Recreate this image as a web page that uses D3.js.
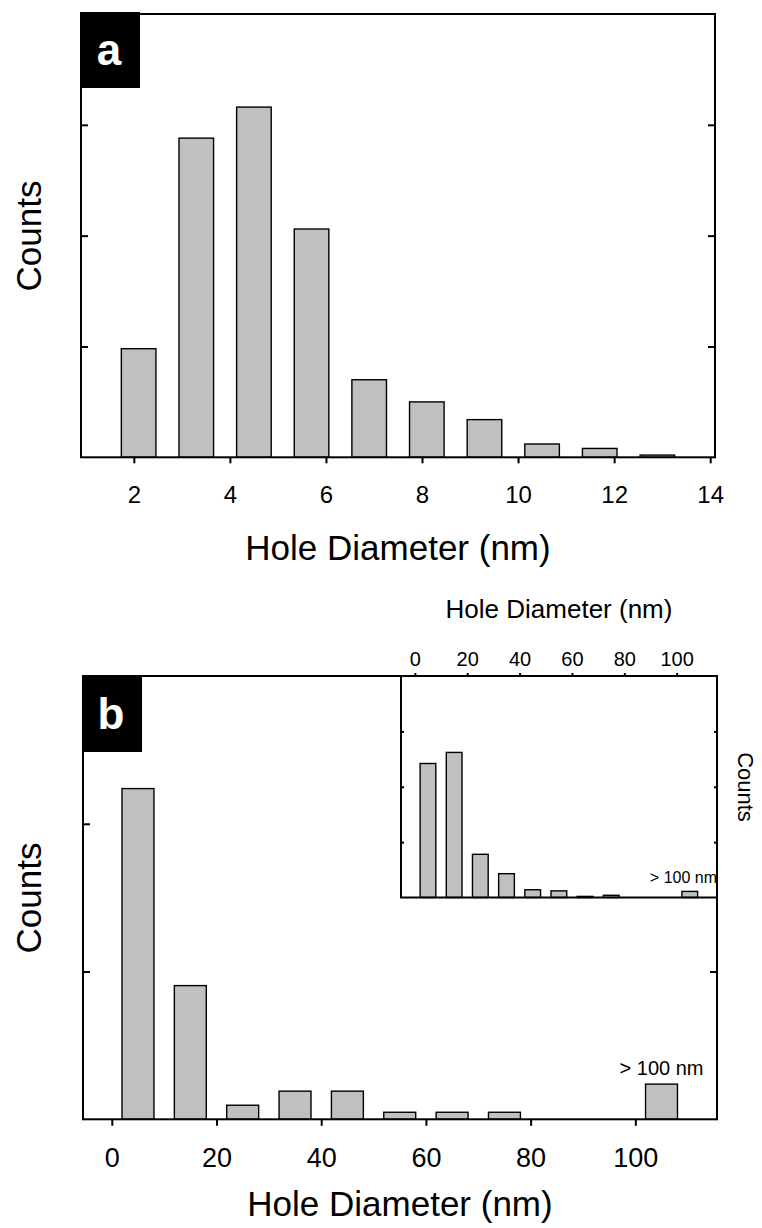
<!DOCTYPE html>
<html>
<head>
<meta charset="utf-8">
<script src="https://cdn.jsdelivr.net/npm/d3@7"></script>
<style>
  body { margin: 0; background: #fff; }
  svg { display: block; font-family: "Liberation Sans", Arial, sans-serif; }
</style>
</head>
<body>
<svg id="chart" width="762" height="1228"></svg>
<script>
// panel a : small holes
const aCenters = [2.1, 3.3, 4.5, 5.7, 6.9, 8.1, 9.3, 10.5, 11.7, 12.9];
const aCounts = [49, 144, 158, 103, 35, 25, 17, 6, 4, 1];
const aTicks = [2, 4, 6, 8, 10, 12, 14];
const aYTicks = [50, 100, 150];

// panel b : all holes, last bin is "> 100 nm"
const bCenters = [5, 15, 25, 35, 45, 55, 65, 75, 105];
const bCounts = [47, 19, 2, 4, 4, 1, 1, 1, 5];
const bTicks = [0, 20, 40, 60, 80, 100];
const bYTicks = [21, 42];

// inset of panel b
const insetCenters = [5, 15, 25, 35, 45, 55, 65, 75, 105];
const insetCounts = [24.2, 26.2, 7.8, 4.3, 1.4, 1.2, 0.2, 0.4, 1.1];
const insetTicks = [0, 20, 40, 60, 80, 100];
const insetYTicks = [10, 20, 30];

const svg = d3.select('#chart');
const barFill = '#c0c0c0';

function bars(g, centers, counts, x, y, w) {
  g.selectAll('rect.bar')
    .data(centers)
    .join('rect')
    .attr('class', 'bar')
    .attr('x', d => x(d - w / 2))
    .attr('width', d => x(d + w / 2) - x(d - w / 2))
    .attr('y', (d, i) => y(counts[i]))
    .attr('height', (d, i) => y(0) - y(counts[i]))
    .attr('fill', barFill)
    .attr('stroke', '#000')
    .attr('stroke-width', 1.4);
}

function sideTicks(g, y, ticks, x0, x1, len) {
  g.append('g')
    .attr('transform', `translate(${x0},0)`)
    .call(d3.axisRight(y).tickValues(ticks).tickSize(len).tickFormat(''))
    .call(s => s.select('.domain').remove())
    .selectAll('line').attr('stroke-width', 2);
  g.append('g')
    .attr('transform', `translate(${x1},0)`)
    .call(d3.axisLeft(y).tickValues(ticks).tickSize(len).tickFormat(''))
    .call(s => s.select('.domain').remove())
    .selectAll('line').attr('stroke-width', 2);
}

function frame(g, x, y) {
  const [l, r] = x.range(), [b, t] = y.range();
  g.append('rect')
    .attr('x', l).attr('y', t)
    .attr('width', r - l).attr('height', b - t)
    .attr('fill', 'none').attr('stroke', '#000').attr('stroke-width', 2);
}

function label(g, txt, x, y, w, h) {
  g.append('rect').attr('x', x).attr('y', y).attr('width', w).attr('height', h).attr('fill', '#000');
  g.append('text')
    .attr('x', x + w / 2 - 1).attr('y', y + h / 2 + 15)
    .attr('text-anchor', 'middle')
    .attr('fill', '#fff')
    .attr('font-size', 44).attr('font-weight', 'bold')
    .text(txt);
}

// ---------- panel a ----------
const ax = d3.scaleLinear().domain([0.9, 14.1]).range([81, 715]);
const ay = d3.scaleLinear().domain([0, 200]).range([457.3, 14]);
const ga = svg.append('g');

bars(ga, aCenters, aCounts, ax, ay, 0.72);
sideTicks(ga, ay, aYTicks, 81, 715, 7);

ga.append('g')
  .attr('transform', `translate(0,${ay(0)})`)
  .call(d3.axisBottom(ax).tickValues(aTicks).tickSize(6).tickPadding(23))
  .call(s => s.select('.domain').remove())
  .call(s => s.selectAll('line').attr('stroke-width', 2))
  .selectAll('text').attr('font-size', 24).attr('fill', '#000');

frame(ga, ax, ay);
label(ga, 'a', 80, 12, 60, 76);

ga.append('text')
  .attr('x', 398).attr('y', 560)
  .attr('text-anchor', 'middle').attr('font-size', 35)
  .text('Hole Diameter (nm)');
ga.append('text')
  .attr('transform', 'translate(41,236) rotate(-90)')
  .attr('text-anchor', 'middle').attr('font-size', 35)
  .text('Counts');

// ---------- panel b ----------
const bx = d3.scaleLinear().domain([-5.5, 115.6]).range([83, 717]);
const by = d3.scaleLinear().domain([0, 63]).range([1119.3, 676]);
const gb = svg.append('g');

bars(gb, bCenters, bCounts, bx, by, 6.1);
sideTicks(gb, by, bYTicks, 83, 717, 7);

gb.append('g')
  .attr('transform', `translate(0,${by(0)})`)
  .call(d3.axisBottom(bx).tickValues(bTicks).tickSize(6.5).tickPadding(22))
  .call(s => s.select('.domain').remove())
  .call(s => s.selectAll('line').attr('stroke-width', 2))
  .selectAll('text').attr('font-size', 27).attr('fill', '#000');

frame(gb, bx, by);
label(gb, 'b', 82, 676, 60, 76);

gb.append('text')
  .attr('x', bx(105)).attr('y', 1075)
  .attr('text-anchor', 'middle').attr('font-size', 20)
  .text('> 100 nm');

gb.append('text')
  .attr('x', 400).attr('y', 1216)
  .attr('text-anchor', 'middle').attr('font-size', 35)
  .text('Hole Diameter (nm)');
gb.append('text')
  .attr('transform', 'translate(41,898) rotate(-90)')
  .attr('text-anchor', 'middle').attr('font-size', 35)
  .text('Counts');

// ---------- inset ----------
const ix = d3.scaleLinear().domain([-5.3, 115.4]).range([401, 717]);
const iy = d3.scaleLinear().domain([0, 40]).range([897.5, 676]);
const gi = svg.append('g');

gi.append('rect')
  .attr('x', 401).attr('y', 676).attr('width', 316).attr('height', 221.5)
  .attr('fill', '#fff');
bars(gi, insetCenters, insetCounts, ix, iy, 6);
sideTicks(gi, iy, insetYTicks, 401, 717, 3);

gi.append('g')
  .attr('transform', `translate(0,${iy(40)})`)
  .call(d3.axisTop(ix).tickValues(insetTicks).tickSize(3).tickPadding(7.5))
  .call(s => s.select('.domain').remove())
  .call(s => s.selectAll('line').attr('stroke-width', 2))
  .selectAll('text').attr('font-size', 20).attr('fill', '#000');

frame(gi, ix, iy);

gi.append('text')
  .attr('x', 717).attr('y', 882.7)
  .attr('text-anchor', 'end').attr('font-size', 16)
  .text('> 100 nm');

gi.append('text')
  .attr('x', 559).attr('y', 618)
  .attr('text-anchor', 'middle').attr('font-size', 26)
  .text('Hole Diameter (nm)');
gi.append('text')
  .attr('transform', 'translate(738,787) rotate(90)')
  .attr('text-anchor', 'middle').attr('font-size', 22)
  .text('Counts');
</script>
</body>
</html>
